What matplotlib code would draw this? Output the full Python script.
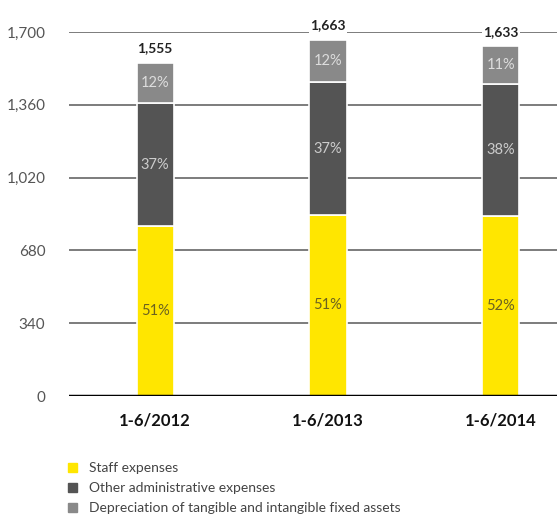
import numpy as np
import matplotlib.pyplot as plt
from matplotlib.patches import Patch

periods = ['1-6/2012', '1-6/2013', '1-6/2014']
staff = [793, 846, 842]
other_admin = [576, 620, 614]
depreciation = [186, 197, 177]
totals = [1555, 1663, 1633]
pct_staff = ['51%', '51%', '52%']
pct_other = ['37%', '37%', '38%']
pct_dep = ['12%', '12%', '11%']
yticks = [0, 340, 680, 1020, 1360, 1700]

plt.rcParams['font.family'] = ['Lato', 'DejaVu Sans']

fig = plt.figure(figsize=(5.57, 5.17), dpi=100)
ax = fig.add_axes([0.124, 0.234, 0.876, 0.704])

x = np.arange(len(periods))
w = 0.214
c_staff, c_other, c_dep = '#ffe600', '#545454', '#898989'

ax.bar(x, staff, w, color=c_staff, edgecolor='white', linewidth=1.2, zorder=3)
ax.bar(x, other_admin, w, bottom=staff, color=c_other, edgecolor='white', linewidth=1.2, zorder=3)
bot2 = np.array(staff) + np.array(other_admin)
ax.bar(x, depreciation, w, bottom=bot2, color=c_dep, edgecolor='white', linewidth=1.2, zorder=3)

for i in range(len(periods)):
    ax.text(x[i], staff[i] / 2, pct_staff[i], ha='center', va='center', fontsize=10.5, color='#6b6220', zorder=4)
    ax.text(x[i], staff[i] + other_admin[i] / 2, pct_other[i], ha='center', va='center', fontsize=10.5, color='#cccccc', zorder=4)
    ax.text(x[i], bot2[i] + depreciation[i] / 2, pct_dep[i], ha='center', va='center', fontsize=10.5, color='#dddddd', zorder=4)
    ax.text(x[i], totals[i] + 40, f'{totals[i]:,}', ha='center', va='bottom', fontsize=10, fontweight='bold', color='#222222', zorder=4,
            bbox=dict(facecolor='white', edgecolor='none', pad=1))

ax.set_ylim(0, 1700)
ax.set_xlim(-0.497, 2.324)
ax.set_yticks(yticks)
ax.set_yticklabels([f'{v:,}' for v in yticks], fontsize=11, color='#555555')
ax.set_xticks(x)
ax.set_xticklabels(periods, fontsize=12, fontweight='bold', color='#111111')
ax.tick_params(axis='both', length=0)
ax.tick_params(axis='y', pad=17)
ax.tick_params(axis='x', pad=12)
for v in yticks[1:]:
    ax.axhline(v, color='#666666', linewidth=1.2, zorder=1)
ax.axhline(0, color='black', linewidth=2.5, zorder=4)
for s in ax.spines.values():
    s.set_visible(False)

handles = [Patch(color=c_staff), Patch(color=c_other), Patch(color=c_dep)]
labels = ['Staff expenses', 'Other administrative expenses', 'Depreciation of tangible and intangible fixed assets']
fig.legend(handles, labels, loc='upper left', bbox_to_anchor=(0.1, 0.13), frameon=False,
           fontsize=10, handlelength=0.6, handleheight=0.6, handletextpad=0.9, labelspacing=0.58,
           labelcolor='#444444')

fig.savefig('out.png', dpi=100)
